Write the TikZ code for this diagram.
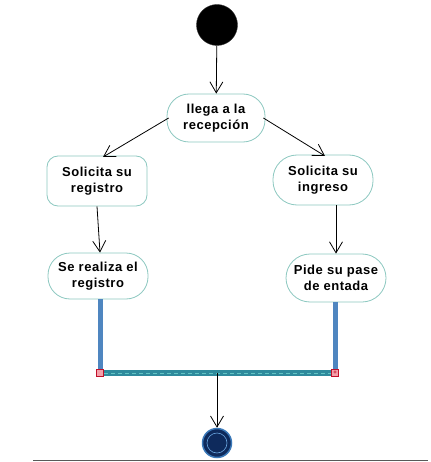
\documentclass[tikz,border=0pt]{standalone}
\usepackage{fontspec}
\setmainfont{Liberation Sans}
\newfontfamily\actfont[LetterSpace=4]{Liberation Sans}
\usetikzlibrary{arrows.meta}
\definecolor{nodeborder}{HTML}{8CC8C0}
\definecolor{vbar}{HTML}{4F86C0}
\definecolor{hbar}{HTML}{2E8A9C}
\definecolor{hbarmid}{HTML}{62C4C4}
\definecolor{sqfill}{HTML}{F4A0AA}
\definecolor{sqdraw}{HTML}{C0102A}
\definecolor{finalfill}{HTML}{0E2A5C}
\definecolor{finalring}{HTML}{3A78B8}
\definecolor{finalinner}{HTML}{6AA6E0}
\tikzset{
  act/.style={draw=nodeborder, line width=0.8pt, fill=white, minimum width=100pt,
    minimum height=48pt, inner sep=0pt, align=center,
    font=\actfont\fontsize{13}{16}\selectfont\bfseries},
  flow/.style={draw=black, line width=0.8pt, -{Straight Barb[length=11pt,width=13pt,line width=0.8pt]}},
  vjoin/.style={draw=vbar, line width=5pt},
  sq/.style={draw=sqdraw, fill=sqfill, line width=0.8pt, minimum size=7pt, inner sep=0pt}
}
\begin{document}
\begin{tikzpicture}[x=1pt,y=-1pt]
\useasboundingbox (0,0) rectangle (430,462);
\node[circle, fill=black, draw=black!80, minimum size=41pt, inner sep=0pt] (start) at (217,25) {};
\node[act, rounded corners=22pt, minimum width=98pt] (llega) at (216,118) {llega a la\\recepción};
\node[act, rounded corners=11pt, minimum height=50pt] (solreg) at (97,181) {Solicita su\\registro};
\node[act, rounded corners=22pt, minimum height=46pt] (realiza) at (98,276) {Se realiza el\\registro};
\node[act, rounded corners=24pt, minimum height=50pt] (soling) at (323,180) {Solicita su\\ingreso};
\node[act, rounded corners=24pt] (pide) at (336,278) {Pide su pase\\de entada};
\node[sq] (sqL) at (100,373) {};
\node[sq] (sqR) at (335,373) {};
\coordinate (fork) at (217,373);
\node[circle, fill=finalfill, draw=finalring, line width=1.5pt, minimum size=29pt, inner sep=0pt] (final) at (217,443) {};
\node[circle, draw=finalinner, line width=0.6pt, minimum size=20pt, inner sep=0pt] (finalin) at (final) {};
% flows
\draw[flow] (start) -- (llega);
\draw[flow] (llega.west) ++(2,0) coordinate (lw) (lw) -- (103,157) coordinate (lt);
\draw[flow] (llega.east) ++(-2,0) coordinate (le) (le) -- (325,156) coordinate (rt);
\draw[flow] (solreg.south) -- (realiza.north -| 100,0);
\draw[flow] (336,205) coordinate (si) -- (pide.north);
% join bars
\draw[vjoin] (realiza.south -| sqL) -- (sqL.north);
\draw[vjoin] (pide.south -| sqR) -- (sqR.north);
\draw[draw=hbar, line width=5.5pt] (sqL.east) -- (sqR.west);
\draw[draw=hbarmid, line width=1pt, dash pattern=on 4pt off 3pt] (sqL.east) -- (sqR.west);
\node[sq] at (sqL) {};
\node[sq] at (sqR) {};
\node[font=\fontsize{6}{6}\selectfont\bfseries, text=sqdraw, inner sep=0pt] (plus) at (sqR) {+};
\draw[flow] (fork) -- (final);
% bottom line
\coordinate (bl) at (33,460);
\coordinate (br) at (428,460);
\draw[draw=black!65, line width=1pt] (bl) -- (br);
\end{tikzpicture}
\end{document}
